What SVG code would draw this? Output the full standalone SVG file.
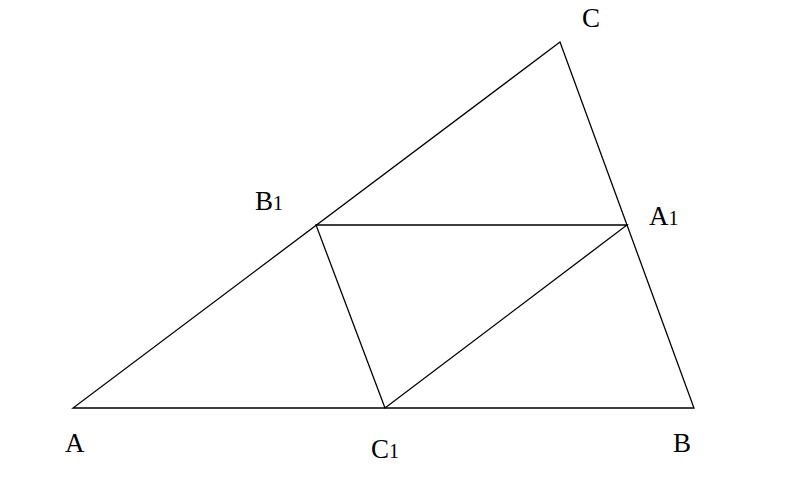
<svg xmlns="http://www.w3.org/2000/svg" width="800" height="494" viewBox="0 0 800 494">
<style>
.l{stroke:#000;stroke-width:1.3;fill:none}
.t{font-family:"Liberation Serif",serif;font-size:27px;fill:#000}
.s{font-size:20px}
</style>
<rect width="800" height="494" fill="#fff"/>
<g id="connectors">
<polygon class="l" points="73,408 694,408 560,42"/>
<polygon class="l" points="316,225 627,225 385,408"/>
</g>
<g id="A"><text class="t" x="65" y="452">A</text></g>
<g id="B"><text class="t" x="673" y="452">B</text></g>
<g id="C"><text class="t" x="582" y="27">C</text></g>
<g id="A1"><text class="t" x="649" y="225">A<tspan class="s">1</tspan></text></g>
<g id="B1"><text class="t" x="255" y="210">B<tspan class="s">1</tspan></text></g>
<g id="C1"><text class="t" x="371" y="458">C<tspan class="s">1</tspan></text></g>
</svg>
